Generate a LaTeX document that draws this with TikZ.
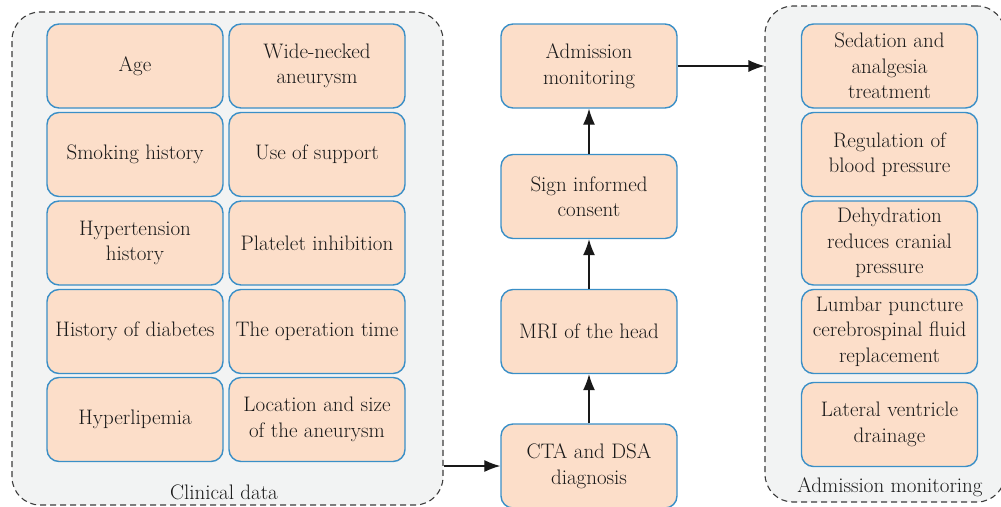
\documentclass[tikz,border=0pt]{standalone}
\usetikzlibrary{arrows.meta}
\usetikzlibrary{positioning}

\definecolor{boxfill}{HTML}{FCDEC9}
\definecolor{boxline}{HTML}{3A8FC7}
\definecolor{grpfill}{HTML}{F2F3F3}
\definecolor{grpline}{HTML}{3C3C3C}

\begin{document}
\begin{tikzpicture}[x=1pt, y=-1pt,
    box/.style={draw=boxline, fill=boxfill, line width=1.4pt, rounded corners=12pt,
      minimum width=176pt, minimum height=84pt, align=center, inner sep=0pt,
      font=\fontsize{21}{25.5}\selectfont, text=black!90},
    group/.style={draw=grpline, fill=grpfill, dashed, dash pattern=on 6pt off 4pt,
      line width=1.1pt, rounded corners=28pt, inner sep=0pt},
    flow/.style={-{Latex[length=16pt, width=12pt]}, line width=1.2pt, black!90}]
      \useasboundingbox (0,0) rectangle (1001,506);
      % containers
      \node[group, minimum width=431pt, minimum height=493pt] (clin) at (227.5,258.5){};
      \node[group, minimum width=240pt, minimum height=496pt] (mon) at (885,254){};
      \node[font=\fontsize{21}{25.5}\selectfont, text=black!90] (clinlbl) at (224,492){Clinical data};
      \node[font=\fontsize{21}{25.5}\selectfont, text=black!90] (monlbl) at (890,487){Admission monitoring};
      % clinical data
      \node[box] (cd1) at (135,66){Age};
      \node[box] (cd2) at (317,66){Wide-necked\\aneurysm};
      \node[box] (cd3) at (135,154.5){Smoking history};
      \node[box] (cd4) at (317,154.5){Use of support};
      \node[box] (cd5) at (135,243){Hypertension\\history};
      \node[box] (cd6) at (317,243){Platelet inhibition};
      \node[box] (cd7) at (135,331.5){History of diabetes};
      \node[box] (cd8) at (317,331.5){The operation time};
      \node[box] (cd9) at (135,419.5){Hyperlipemia};
      \node[box] (cd10) at (317,419.5){Location and size\\of the aneurysm};
      % main flow
      \node[box] (st4) at (589,466){CTA and DSA\\diagnosis};
      \node[box] (st3) at (589,331.5){MRI of the head};
      \node[box] (st2) at (589,196.5){Sign informed\\consent};
      \node[box] (st1) at (589,66){Admission\\monitoring};
      \draw[flow] (st4) -- (st3);
      \draw[flow] (st3) -- (st2);
      \draw[flow] (st2) -- (st1);
      \draw[flow] (clin.east |- st4) -- (st4);
      \draw[flow] (st1) -- (st1 -| mon.west);
      % admission monitoring
      \node[box] (am1) at (889.5,66){Sedation and\\analgesia\\treatment};
      \node[box] (am2) at (889.5,154.5){Regulation of\\blood pressure};
      \node[box] (am3) at (889.5,243){Dehydration\\reduces cranial\\pressure};
      \node[box] (am4) at (889.5,331.5){Lumbar puncture\\cerebrospinal fluid\\replacement};
      \node[box] (am5) at (889.5,424.5){Lateral ventricle\\drainage};
    \end{tikzpicture}
\end{document}
